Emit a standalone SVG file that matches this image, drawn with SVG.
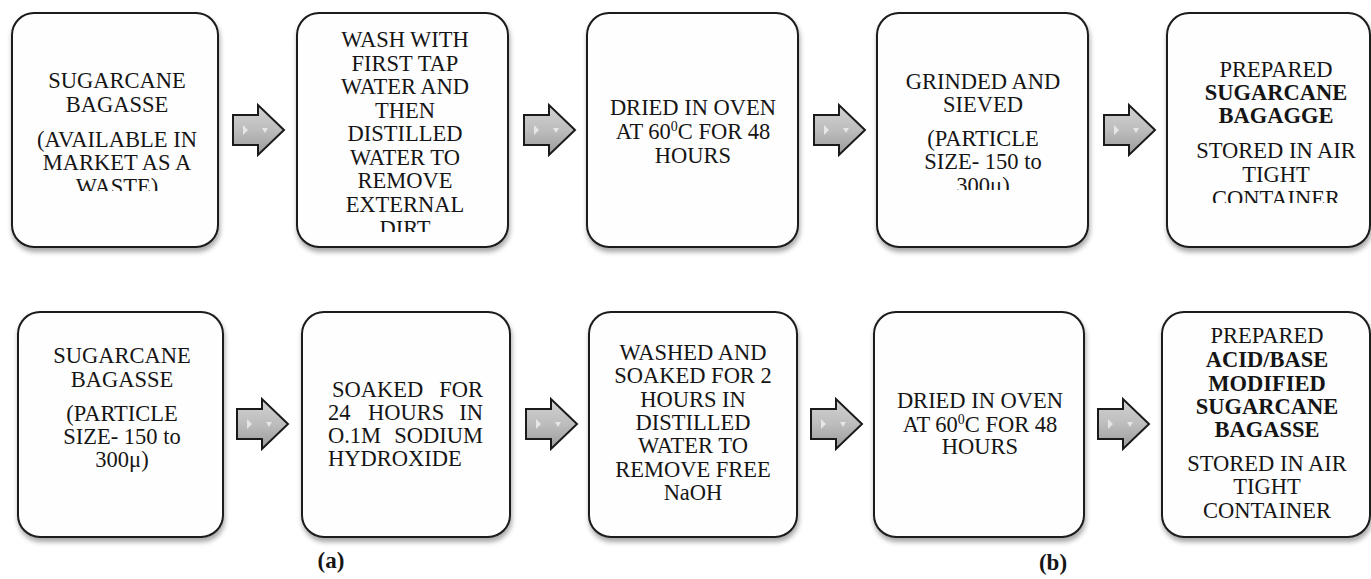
<svg xmlns="http://www.w3.org/2000/svg" width="1371" height="579" viewBox="0 0 1371 579">
<style>
.box{fill:#fefefe;stroke:#1a1a1a;stroke-width:2;filter:url(#sh)}
.t{font-family:"Liberation Serif","Times New Roman",serif;font-size:22.5px;fill:#151515;text-anchor:middle}
.s{text-anchor:start}
.e{text-anchor:end}
.b{font-weight:bold}
.lbl{font-family:"Liberation Serif","Times New Roman",serif;font-size:23px;font-weight:bold;fill:#151515;text-anchor:middle}
.arr{fill:url(#ag);stroke:#1a1a1a;stroke-width:2;stroke-linejoin:miter}
.dec{fill:#e6e6e6}
</style>
<defs>
<filter id="sh" x="-10%" y="-10%" width="120%" height="125%">
<feDropShadow dx="1" dy="4" stdDeviation="2.5" flood-color="#000" flood-opacity="0.35"/>
</filter>
<linearGradient id="ag" x1="0" y1="0" x2="0" y2="1">
<stop offset="0" stop-color="#d2d2d2"/>
<stop offset="0.5" stop-color="#bdbdbd"/>
<stop offset="1" stop-color="#9a9a9a"/>
</linearGradient>
<g id="arrow">
<path class="arr" d="M0,10 L25,10 L25,0 L51,25 L25,50 L25,40 L0,40 Z"/>
<path class="dec" d="M10,20 L15,25 L10,30 Z"/>
<path class="dec" d="M29,23 L35,23 L32,28 Z"/>
</g>
<clipPath id="c1"><rect x="0" y="0" width="1371" height="191"/></clipPath>
<clipPath id="c2"><rect x="0" y="0" width="1371" height="232"/></clipPath>
<clipPath id="c4"><rect x="0" y="0" width="1371" height="190"/></clipPath>
<clipPath id="c5"><rect x="0" y="0" width="1371" height="203"/></clipPath>
</defs>
<rect width="1371" height="579" fill="#ffffff"/>

<g id="connectors">
<use href="#arrow" x="233" y="105"/>
<use href="#arrow" x="524" y="105"/>
<use href="#arrow" x="814" y="105"/>
<use href="#arrow" x="1104" y="105"/>
<use href="#arrow" x="237" y="399"/>
<use href="#arrow" x="526" y="399"/>
<use href="#arrow" x="811" y="399"/>
<use href="#arrow" x="1098" y="399"/>
</g>

<g id="a1">
<rect class="box" x="12" y="13" width="206" height="234" rx="22"/>
<g clip-path="url(#c1)">
<text class="t" x="117" y="88">SUGARCANE</text>
<text class="t" x="117" y="112">BAGASSE</text>
<text class="t" x="117" y="147">(AVAILABLE IN</text>
<text class="t" x="117" y="170">MARKET AS A</text>
<text class="t" x="117" y="194">WASTE)</text>
</g>
</g>

<g id="a2">
<rect class="box" x="297" y="13" width="211" height="234" rx="22"/>
<g clip-path="url(#c2)">
<text class="t" x="405" y="47">WASH WITH</text>
<text class="t" x="405" y="71">FIRST TAP</text>
<text class="t" x="405" y="94">WATER AND</text>
<text class="t" x="405" y="118">THEN</text>
<text class="t" x="405" y="141">DISTILLED</text>
<text class="t" x="405" y="165">WATER TO</text>
<text class="t" x="405" y="188">REMOVE</text>
<text class="t" x="405" y="212">EXTERNAL</text>
<text class="t" x="405" y="236">DIRT</text>
</g>
</g>

<g id="a3">
<rect class="box" x="587" y="13" width="211" height="234" rx="22"/>
<text class="t" x="693" y="115">DRIED IN OVEN</text>
<text class="t" x="693" y="139">AT 60<tspan font-size="14" dy="-8">0</tspan><tspan dy="8">C FOR 48</tspan></text>
<text class="t" x="693" y="163">HOURS</text>
</g>

<g id="a4">
<rect class="box" x="877" y="13" width="211" height="234" rx="22"/>
<g clip-path="url(#c4)">
<text class="t" x="983" y="89">GRINDED AND</text>
<text class="t" x="983" y="112">SIEVED</text>
<text class="t" x="983" y="146">(PARTICLE</text>
<text class="t" x="983" y="169">SIZE- 150 to</text>
<text class="t" x="983" y="193">300μ)</text>
</g>
</g>

<g id="a5">
<rect class="box" x="1167" y="13" width="203" height="234" rx="22"/>
<g clip-path="url(#c5)">
<text class="t" x="1276" y="77">PREPARED</text>
<text class="t b" x="1276" y="100">SUGARCANE</text>
<text class="t b" x="1276" y="123">BAGAGGE</text>
<text class="t" x="1276" y="158">STORED IN AIR</text>
<text class="t" x="1276" y="182">TIGHT</text>
<text class="t" x="1276" y="206">CONTAINER</text>
</g>
</g>

<g id="b1">
<rect class="box" x="18" y="312" width="205" height="225" rx="22"/>
<text class="t" x="122" y="363">SUGARCANE</text>
<text class="t" x="122" y="387">BAGASSE</text>
<text class="t" x="122" y="421">(PARTICLE</text>
<text class="t" x="122" y="444">SIZE- 150 to</text>
<text class="t" x="122" y="467">300μ)</text>
</g>

<g id="b2">
<rect class="box" x="302" y="312" width="208" height="225" rx="22"/>
<text class="t s" x="332" y="397">SOAKED</text>
<text class="t e" x="483" y="397">FOR</text>
<text class="t s" x="328" y="420">24</text>
<text class="t s" x="368" y="420">HOURS</text>
<text class="t e" x="483" y="420">IN</text>
<text class="t s" x="328" y="443">O.1M</text>
<text class="t e" x="483" y="443">SODIUM</text>
<text class="t s" x="328" y="466">HYDROXIDE</text>
</g>

<g id="b3">
<rect class="box" x="589" y="312" width="208" height="225" rx="22"/>
<text class="t" x="693" y="360">WASHED AND</text>
<text class="t" x="693" y="383">SOAKED FOR 2</text>
<text class="t" x="693" y="407">HOURS IN</text>
<text class="t" x="693" y="430">DISTILLED</text>
<text class="t" x="693" y="453">WATER TO</text>
<text class="t" x="693" y="477">REMOVE FREE</text>
<text class="t" x="693" y="500">NaOH</text>
</g>

<g id="b4">
<rect class="box" x="874" y="312" width="210" height="225" rx="22"/>
<text class="t" x="980" y="408">DRIED IN OVEN</text>
<text class="t" x="980" y="432">AT 60<tspan font-size="14" dy="-8">0</tspan><tspan dy="8">C FOR 48</tspan></text>
<text class="t" x="980" y="454">HOURS</text>
</g>

<g id="b5">
<rect class="box" x="1162" y="312" width="208" height="225" rx="22"/>
<text class="t" x="1267" y="343">PREPARED</text>
<text class="t b" x="1267" y="367">ACID/BASE</text>
<text class="t b" x="1267" y="391">MODIFIED</text>
<text class="t b" x="1267" y="414">SUGARCANE</text>
<text class="t b" x="1267" y="437">BAGASSE</text>
<text class="t" x="1267" y="471">STORED IN AIR</text>
<text class="t" x="1267" y="494">TIGHT</text>
<text class="t" x="1267" y="518">CONTAINER</text>
</g>

<text class="lbl" x="331" y="568">(a)</text>
<text class="lbl" x="1053" y="570">(b)</text>
</svg>
